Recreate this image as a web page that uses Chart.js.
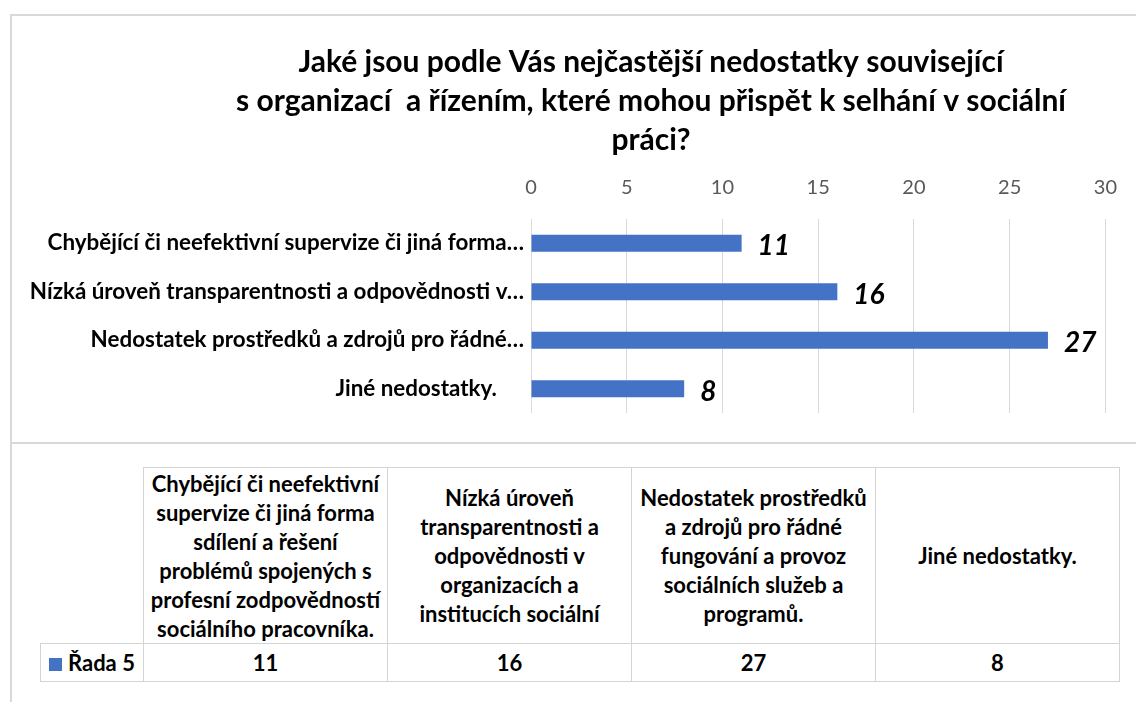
<!DOCTYPE html>
<html lang="cs">
<head>
<meta charset="utf-8">
<script src="https://cdn.jsdelivr.net/npm/chart.js@4.4.1/dist/chart.umd.min.js"></script>
<style>
  html, body { margin: 0; padding: 0; background: #fff; overflow: hidden; }
  body { width: 1136px; height: 702px; position: relative; font-family: Lato, sans-serif; }
  #wrap { position: absolute; left: 0; top: 0; width: 1136px; height: 443px; }
  .line { position: absolute; background: #d9d9d9; }
  #data-table {
    position: absolute; left: 40px; top: 467px; width: 1080px;
    border-collapse: collapse; table-layout: fixed;
    font-weight: bold; font-size: 22px; color: #000;
  }
  #data-table td { border: 1px solid #d4d4d4; text-align: center; padding: 0; }
  #data-table tr.head td { height: 175px; line-height: 29px; vertical-align: middle; }
  #data-table tr.vals td { height: 37px; }
  #data-table td.corner { border-top: none; border-left: none; }
  #data-table td.series { text-align: left; padding-left: 8px; white-space: nowrap; }
  .key { display: inline-block; width: 13px; height: 13px; background: #4472c4; margin-right: 6px; vertical-align: 0px; }
</style>
</head>
<body>
<div id="wrap"><canvas id="chart" width="1136" height="443"></canvas></div>
<div class="line" style="left:10px;top:14px;width:1126px;height:2px"></div>
<div class="line" style="left:10px;top:14px;width:2px;height:688px"></div>
<div class="line" style="left:12px;top:442px;width:1124px;height:2px"></div>
<table id="data-table"></table>

<script>
const titleLines = [
  "Jaké jsou podle Vás nejčastější nedostatky související",
  "s organizací  a řízením, které mohou přispět k selhání v sociální",
  "práci?"
];

// labels shown on the axis (cut like in the original)
const axisLabels = [
  "Chybějící či neefektivní supervize či jiná forma…",
  "Nízká úroveň transparentnosti a odpovědnosti v…",
  "Nedostatek prostředků a zdrojů pro řádné…",
  "Jiné nedostatky.     "
];

// header text of the data table, line by line
const tableHeaders = [
  ["Chybějící či neefektivní", "supervize či jiná forma", "sdílení a řešení", "problémů spojených s", "profesní zodpovědností", "sociálního pracovníka."],
  ["Nízká úroveň", "transparentnosti a", "odpovědnosti v", "organizacích a", "institucích sociální"],
  ["Nedostatek prostředků", "a zdrojů pro řádné", "fungování a provoz", "sociálních služeb a", "programů."],
  ["Jiné nedostatky."]
];

const seriesName = "Řada 5";
const values = [11, 16, 27, 8];
const xTicks = [0, 5, 10, 15, 20, 25, 30];

const barColor = "#4472c4";
const font = "Lato, sans-serif";

// data table under the chart
const table = document.getElementById("data-table");
let html = '<colgroup><col style="width:103px">' + tableHeaders.map(() => '<col>').join("") + '</colgroup>';
html += '<tr class="head"><td class="corner"></td>' + tableHeaders.map(l => "<td>" + l.join("<br>") + "</td>").join("") + "</tr>";
html += '<tr class="vals"><td class="series"><span class="key"></span>' + seriesName + "</td>" + values.map(v => "<td>" + v + "</td>").join("") + "</tr>";
table.innerHTML = html;

// value labels at the bar ends
const valueLabels = {
  id: "valueLabels",
  afterDatasetsDraw(chart) {
    const ctx = chart.ctx;
    const meta = chart.getDatasetMeta(0);
    ctx.save();
    ctx.font = "italic bold 28px " + font;
    ctx.fillStyle = "#000";
    ctx.textAlign = "left";
    ctx.textBaseline = "middle";
    meta.data.forEach((bar, i) => {
      ctx.fillText(String(values[i]), bar.x + 16, bar.y + 3);
    });
    ctx.restore();
  }
};

// the title in the original is centred over the right part, not the whole chart
const shiftTitle = {
  id: "shiftTitle",
  afterLayout(chart) {
    if (chart.titleBlock) chart.titleBlock.left = 188;
  }
};

const ctx = document.getElementById("chart").getContext("2d");
new Chart(ctx, {
  type: "bar",
  data: {
    labels: axisLabels,
    datasets: [{
      label: seriesName,
      data: values,
      backgroundColor: barColor,
      borderWidth: 0,
      categoryPercentage: 1,
      barPercentage: 0.35
    }]
  },
  options: {
    indexAxis: "y",
    responsive: false,
    animation: false,
    layout: { padding: { left: 0, right: 22, top: 0, bottom: 30 } },
    plugins: {
      legend: { display: false },
      tooltip: { enabled: false },
      title: {
        display: true,
        text: titleLines,
        color: "#000",
        font: { family: font, size: 30, weight: "bold", lineHeight: 1.3 },
        padding: { top: 43, bottom: 17 }
      }
    },
    scales: {
      x: {
        position: "top",
        min: 0,
        max: 30,
        afterBuildTicks: axis => { axis.ticks = xTicks.map(v => ({ value: v })); },
        afterFit: axis => { axis.height = 42; },
        grid: { color: "#d9d9d9", lineWidth: 1, drawTicks: false },
        border: { display: false },
        ticks: { color: "#595959", padding: 19, font: { family: font, size: 20 } }
      },
      y: {
        afterFit: axis => { axis.width = 531; },
        grid: { display: false, drawTicks: false },
        border: { display: false },
        ticks: { color: "#000", padding: 7, autoSkip: false, font: { family: font, size: 22.4, weight: "bold" } }
      }
    }
  },
  plugins: [valueLabels, shiftTitle]
});
</script>
</body>
</html>
